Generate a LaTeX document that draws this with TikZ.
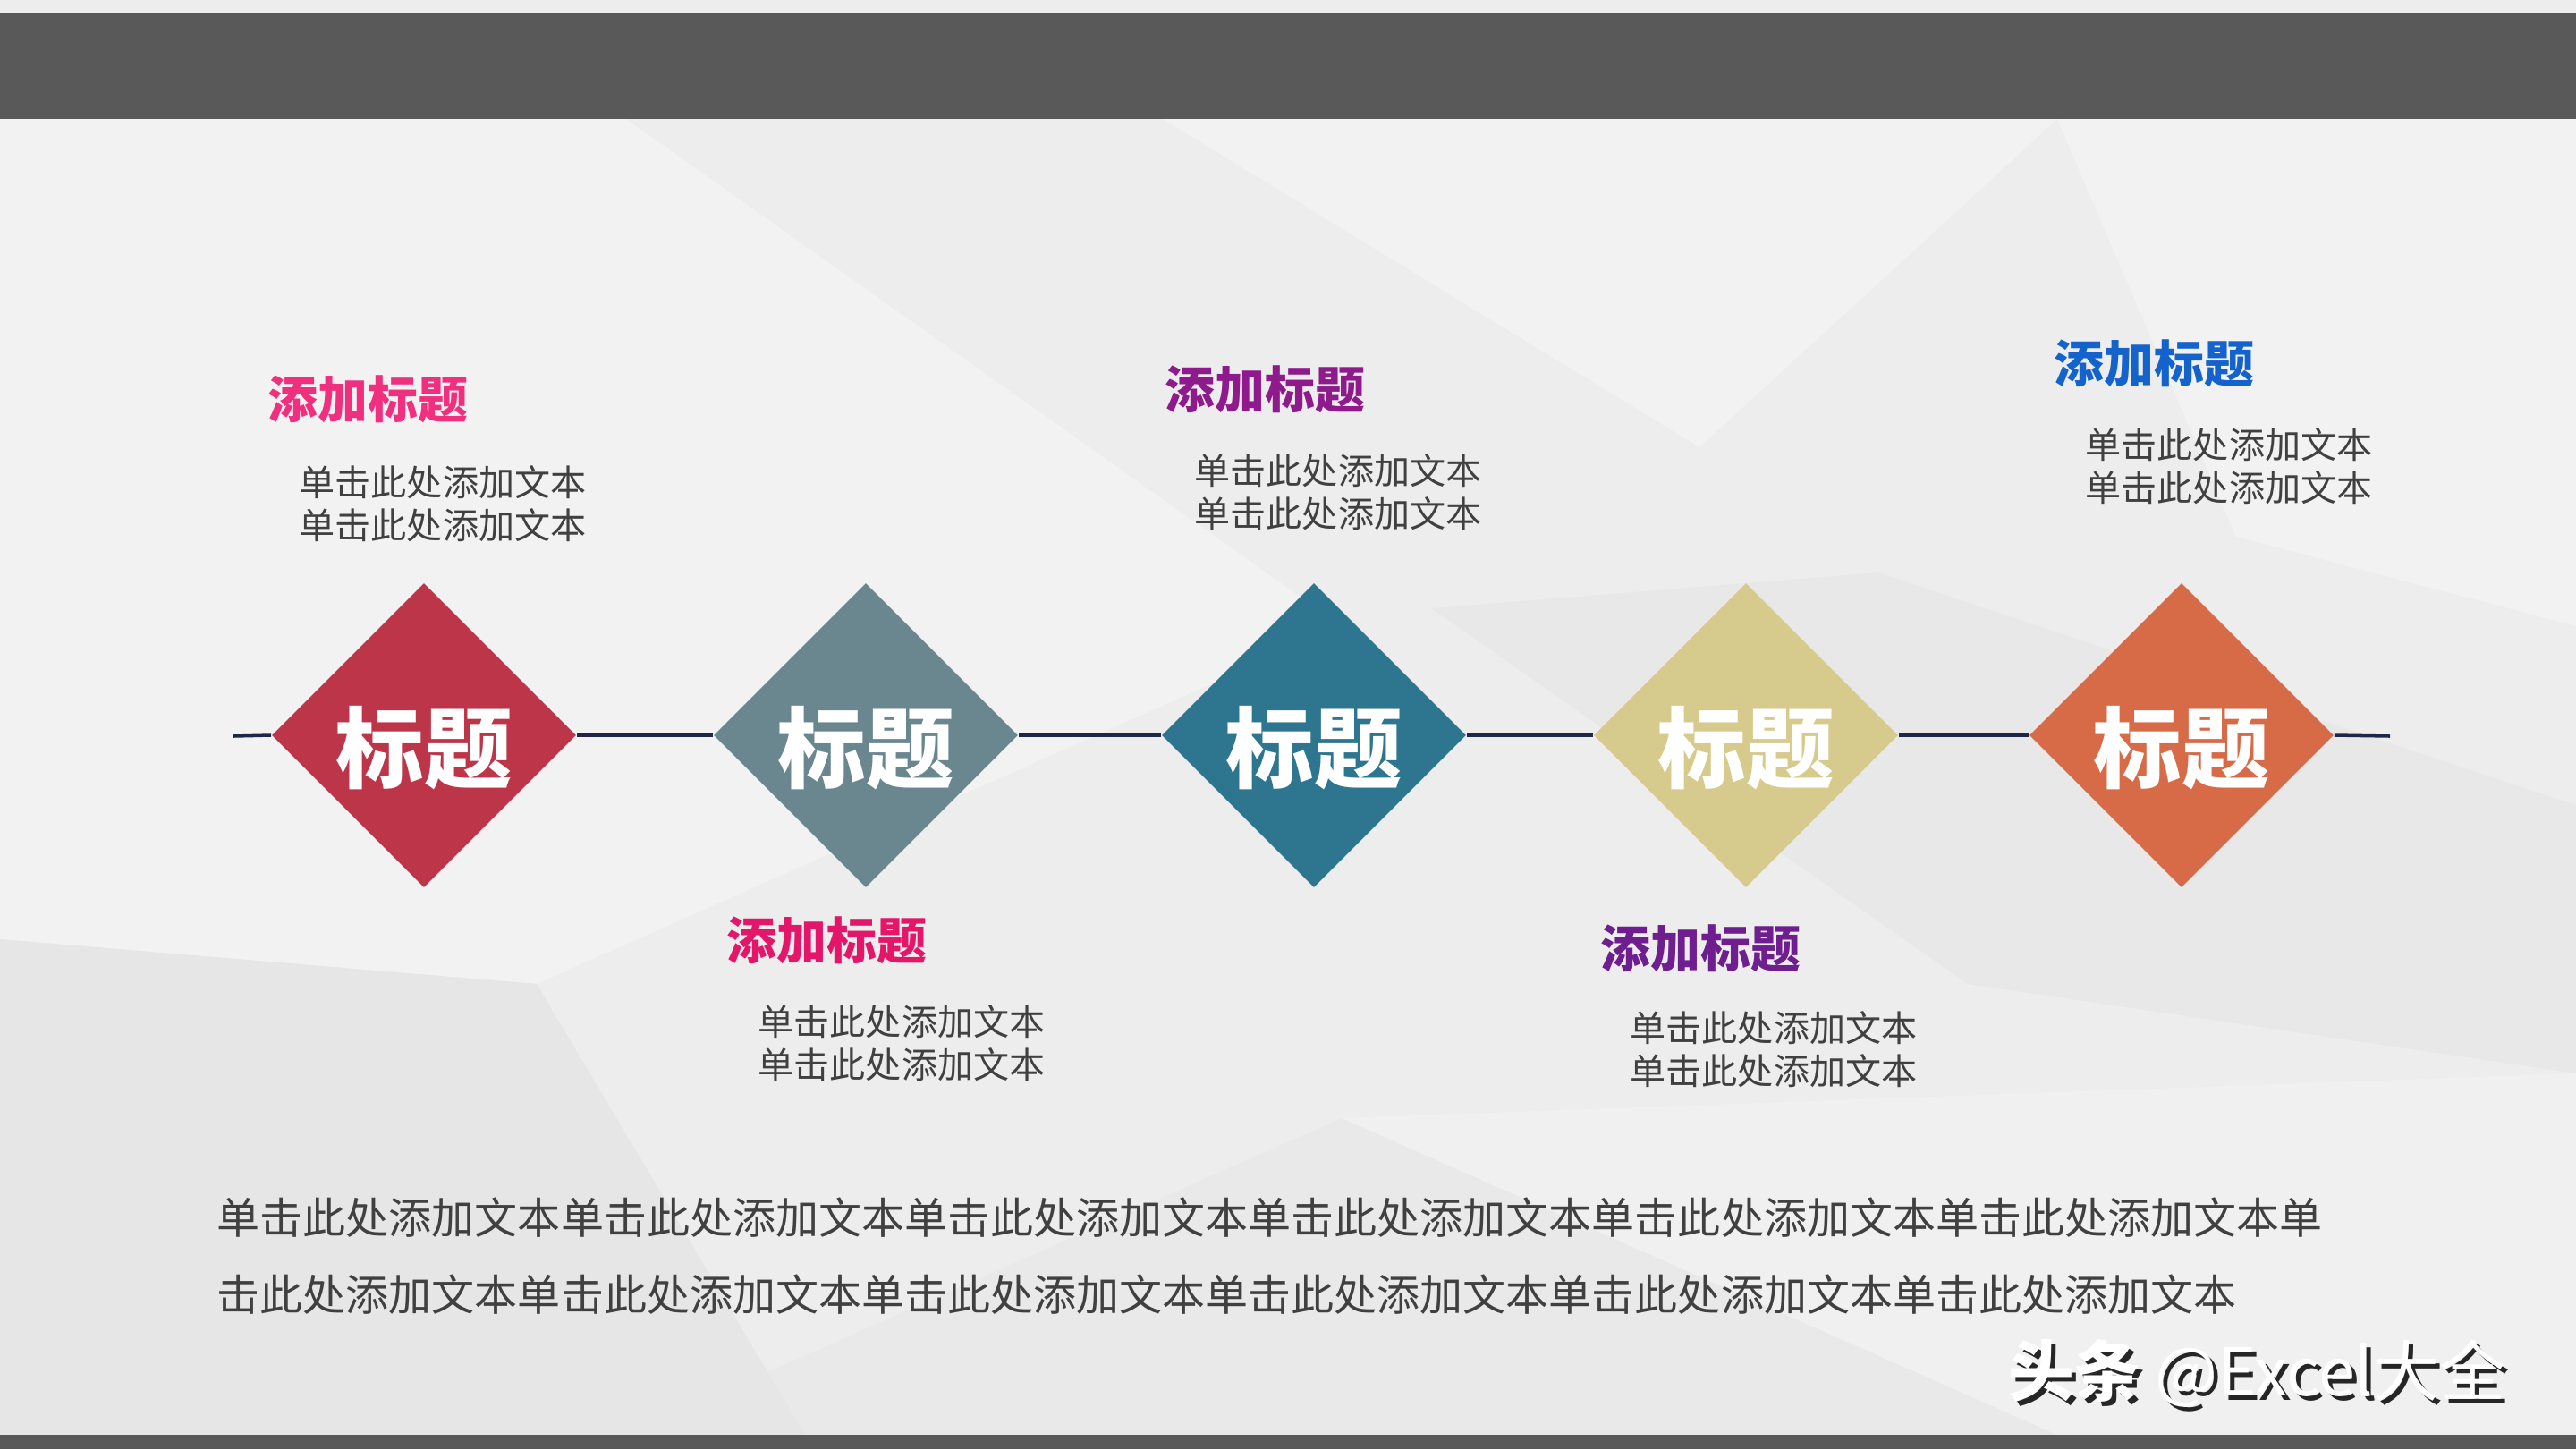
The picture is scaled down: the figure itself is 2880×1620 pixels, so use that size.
\documentclass[tikz,border=0pt]{standalone}
\usepackage{fontspec}
\usetikzlibrary{shapes.geometric}
\newfontfamily\cjk{Noto Sans CJK SC}
\newfontfamily\cjkblack{Noto Sans CJK SC Black}
\definecolor{bgbase}{HTML}{EDEDED}
\definecolor{bglight}{HTML}{F2F2F2}
\definecolor{bgdark}{HTML}{E6E6E6}
\definecolor{barcol}{HTML}{595959}
\definecolor{linecol}{HTML}{1F2748}
\definecolor{cA}{HTML}{BC3549}
\definecolor{cB}{HTML}{6A8790}
\definecolor{cC}{HTML}{2E7590}
\definecolor{cD}{HTML}{D6CA8C}
\definecolor{cE}{HTML}{D76B47}
\definecolor{tA}{HTML}{F0307F}
\definecolor{tB}{HTML}{E4166A}
\definecolor{tC}{HTML}{8E1A8C}
\definecolor{tD}{HTML}{6E1E8E}
\definecolor{tE}{HTML}{1462CC}
\definecolor{bodycol}{HTML}{404040}
\tikzset{
  dia/.style={shape=diamond, aspect=1, inner sep=0pt, minimum width=3.4cm, minimum height=3.4cm},
  dlabel/.style={inner sep=0pt, text=white, yshift=-0.14cm, font=\cjkblack\fontsize{28pt}{30pt}\selectfont},
  ttl/.style={anchor=west, inner sep=0pt, font=\cjk\bfseries\fontsize{15.9pt}{18pt}\selectfont},
  bodytxt/.style={anchor=north west, inner sep=0pt, align=left, text=bodycol,
    font=\cjk\fontsize{11.4pt}{13.6pt}\selectfont},
  para/.style={anchor=west, inner sep=0pt, text=bodycol, font=\cjk\fontsize{13.66pt}{16pt}\selectfont},
  wm/.style={anchor=west, inner sep=0pt, font=\cjk\fontsize{21pt}{24pt}\selectfont},
  conn/.style={linecol, line width=1pt}
}
\begin{document}
\begin{tikzpicture}[x=0.01cm,y=-0.01cm]
\useasboundingbox (0,0) rectangle (2880,1620);
% background
\fill[bgbase] (0,0) rectangle (2880,1620);
\fill[bglight] (0,133) -- (700,133) -- (1500,700) -- (600,1100) -- (0,1050) -- cycle;
\fill[bglight] (1300,133) -- (2300,133) -- (1900,500) -- cycle;
\fill[bglight] (2300,133) -- (2880,133) -- (2880,700) -- (2500,600) -- cycle;
\fill[bgdark] (0,1050) -- (600,1100) -- (900,1604) -- (0,1604) -- cycle;
\fill[bgdark,opacity=0.6] (1600,680) -- (2100,640) -- (2880,900) -- (2880,1200) -- (2200,1100) -- cycle;
\fill[bgdark,opacity=0.5] (700,1604) -- (1500,1250) -- (2300,1604) -- cycle;
\fill[bglight,opacity=0.7] (1500,1250) -- (2880,1200) -- (2880,1604) -- (2300,1604) -- cycle;
% bars
\fill[barcol] (0,14) rectangle (2880,133);
\fill[barcol] (0,1604) rectangle (2880,1620);
% diamonds
\node[dia, fill=cA] (d1) at (474,822) {};
\node[dia, fill=cB] (d2) at (968,822) {};
\node[dia, fill=cC] (d3) at (1469,822) {};
\node[dia, fill=cD] (d4) at (1952,822) {};
\node[dia, fill=cE] (d5) at (2439,822) {};
\node[dlabel] (l1) at (d1) {标题};
\node[dlabel] (l2) at (d2) {标题};
\node[dlabel] (l3) at (d3) {标题};
\node[dlabel] (l4) at (d4) {标题};
\node[dlabel] (l5) at (d5) {标题};
\coordinate (L) at (261,823);
\coordinate (R) at (2672,823);
\draw[conn] (L) -- (d1.west);
\draw[conn] (d1.east) -- (d2.west);
\draw[conn] (d2.east) -- (d3.west);
\draw[conn] (d3.east) -- (d4.west);
\draw[conn] (d4.east) -- (d5.west);
\draw[conn] (d5.east) -- (R);
% titles
\node[ttl, text=tA] (t1) at (299,446) {添加标题};
\node[ttl, text=tB] (t2) at (812,1051) {添加标题};
\node[ttl, text=tC] (t3) at (1302,435) {添加标题};
\node[ttl, text=tD] (t4) at (1789,1060) {添加标题};
\node[ttl, text=tE] (t5) at (2296,406) {添加标题};
% bodies
\node[bodytxt] (b1) at (334,520) {单击此处添加文本\\单击此处添加文本};
\node[bodytxt] (b2) at (847,1123) {单击此处添加文本\\单击此处添加文本};
\node[bodytxt] (b3) at (1335,507) {单击此处添加文本\\单击此处添加文本};
\node[bodytxt] (b4) at (1822,1130) {单击此处添加文本\\单击此处添加文本};
\node[bodytxt] (b5) at (2331,478) {单击此处添加文本\\单击此处添加文本};
% paragraph
\node[para] (p1) at (242,1361) {单击此处添加文本单击此处添加文本单击此处添加文本单击此处添加文本单击此处添加文本单击此处添加文本单};
\node[para] (p2) at (242,1447) {击此处添加文本单击此处添加文本单击此处添加文本单击此处添加文本单击此处添加文本单击此处添加文本};
% watermark
\node[wm, text=black!85] (wms) at (2250,1540) {{\bfseries 头条} @Excel大全};
\node[wm, text=white] (wmt) at (2245,1535) {{\bfseries 头条} @Excel大全};
\end{tikzpicture}
\end{document}
